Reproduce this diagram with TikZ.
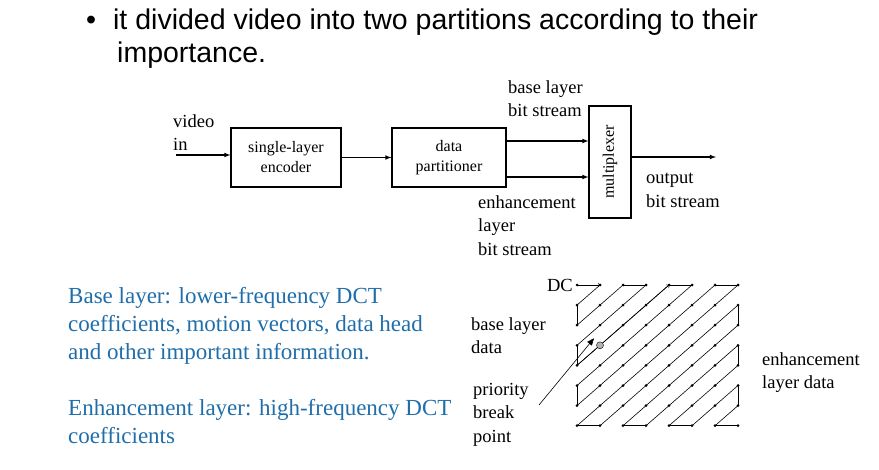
\documentclass[tikz,border=0pt]{standalone}
\usepackage{fontspec}
\setmainfont{Liberation Serif}
\newfontfamily\slidefont{Liberation Sans}
\usetikzlibrary{positioning, arrows}
\definecolor{noteblue}{RGB}{31,110,170}
\tikzset{
  >=latex,
  block/.style={draw, line width=1.1pt, minimum width=110pt, minimum height=59pt, align=center, font=\fontsize{16}{20}\selectfont},
  lbl/.style={align=left, anchor=north west, inner sep=0pt, font=\fontsize{18.5}{23.5}\selectfont},
  note/.style={align=left, anchor=north west, inner sep=0pt, text=noteblue, font=\fontsize{23}{28}\selectfont},
  dot/.style={circle, fill, inner sep=0pt, minimum size=3pt},
}
\begin{document}
\begin{tikzpicture}[x=1pt, y=-1pt]
      \useasboundingbox (0,0) rectangle (879,469);

      % heading
      \node[anchor=north west, inner sep=0pt, font=\slidefont\fontsize{28.5}{33}\selectfont, align=left] (head) at (86,9)
        {\textbullet\hspace{17pt}it divided video into two partitions according to their\\\hspace{31pt}importance.};

      % block chain
      \node[block] (enc) at (286,157.5) {single-layer\\encoder};
      \node[block, minimum width=114pt] (part) at (449,157.5) {data\\partitioner};
      \node[draw, line width=1.1pt, minimum width=42pt, minimum height=112pt] (mux) at (610,162) {};
      \node[rotate=90, font=\fontsize{16}{20}\selectfont] (muxt) at (mux) {multiplexer};
      \coordinate (vin) at (176,155);
      \coordinate (vout) at (716,157);
      \draw[line width=1.1pt,->] (vin) -- (enc.west |- vin);
      \draw[line width=1.1pt,->] (enc) -- (part);
      \draw[line width=1.1pt,->] (part.east |- 0,141) -- (mux.west |- 0,141);
      \draw[line width=1.1pt,->] (part.east |- 0,177) -- (mux.west |- 0,177);
      \draw[line width=1.1pt,->] (mux.east |- vout) -- (vout);

      \node[lbl] (lvin) at (173,114) {video\\in};
      \node[lbl] (lbase) at (508,80) {base layer\\bit stream};
      \node[lbl] (lenh) at (478,195) {enhancement\\layer\\bit stream};
      \node[lbl] (lout) at (646,173) {output\\bit stream};

      % notes
      \node[note] (nbase) at (68,287) {Base layer: lower-frequency DCT\\coefficients, motion vectors, data head\\and other important information.};
      \node[note] (nenh) at (68,399) {Enhancement layer: high-frequency DCT\\coefficients};

      % zigzag scan
      \foreach \i in {0,...,7}
        \foreach \j in {0,...,7}
          \node[dot] (g-\i-\j) at (577+23*\i, 285+20.1*\j) {};
      \foreach \s in {0,...,14} {
        \pgfmathtruncatemacro\ilo{max(0,\s-7)}
        \pgfmathtruncatemacro\ihi{min(\s,7)}
        \pgfmathtruncatemacro\jlo{\s-\ilo}
        \pgfmathtruncatemacro\jhi{\s-\ihi}
        \draw[semithick] (g-\ilo-\jlo.center) -- (g-\ihi-\jhi.center);
      }
      \foreach \s in {0,...,13} {
        \pgfmathtruncatemacro\odd{mod(\s,2)}
        \ifnum\odd=0
          \ifnum\s<7
            \pgfmathtruncatemacro\a{\s+1}
            \draw[semithick] (g-\s-0.center) -- (g-\a-0.center);
          \else
            \pgfmathtruncatemacro\a{\s-7}\pgfmathtruncatemacro\b{\s-6}
            \draw[semithick] (g-7-\a.center) -- (g-7-\b.center);
          \fi
        \else
          \ifnum\s<7
            \pgfmathtruncatemacro\a{\s+1}
            \draw[semithick] (g-0-\s.center) -- (g-0-\a.center);
          \else
            \pgfmathtruncatemacro\a{\s-7}\pgfmathtruncatemacro\b{\s-6}
            \draw[semithick] (g-\a-7.center) -- (g-\b-7.center);
          \fi
        \fi
      }
      \draw[semithick, ->, >=to] (g-0-0.center) -- (g-1-0.center);
      \draw[semithick, ->, >=to] (g-0-4.center) -- (g-4-0.center);
      \node[circle, draw, fill=gray!60, inner sep=0pt, minimum size=7pt] (brk) at (g-1-3) {};
      \node[anchor=east, font=\fontsize{18.5}{20}\selectfont, inner sep=1pt] (dc) at ([xshift=-3pt]g-0-0) {DC};

      \node[lbl] (lbd) at (471,317) {base layer\\data};
      \node[lbl] (lpr) at (473,383) {priority\\break\\point};
      \node[lbl] (led) at (762,352) {enhancement\\layer data};
      \coordinate (ptail) at (539,405);
      \draw[semithick, ->, >=triangle 45] (ptail) -- ([xshift=-6pt,yshift=7pt]brk.center);
\end{tikzpicture}
\end{document}
